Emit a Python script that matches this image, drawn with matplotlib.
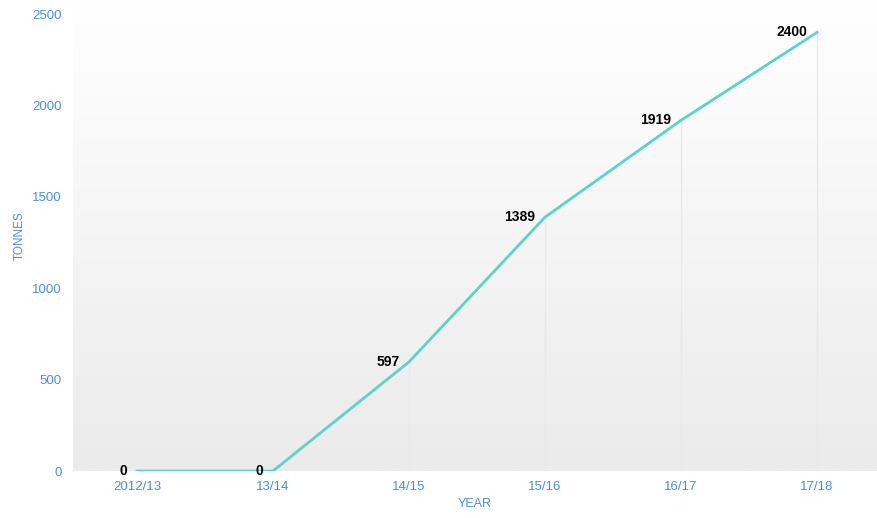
import matplotlib.pyplot as plt
import numpy as np

plt.rcParams['font.family'] = ['Liberation Sans', 'DejaVu Sans']

years = ['2012/13', '13/14', '14/15', '15/16', '16/17', '17/18']
tonnes = [0, 0, 597, 1389, 1919, 2400]
yticks = [0, 500, 1000, 1500, 2000, 2500]

blue = '#4a8fe0'
teal = '#5cd3c8'

fig = plt.figure(figsize=(8.77, 5.18), dpi=100)
ax = fig.add_axes([0.0832, 0.0907, 0.9168, 0.9093])

x = np.arange(len(years))
xmin, xmax = -0.47, 5.44
ymin, ymax = 0, 2577

# fondo degradado blanco -> gris
grad = np.linspace(1, 0, 256).reshape(-1, 1)
ax.imshow(grad, extent=[xmin, xmax, ymin, ymax], aspect='auto',
          cmap=plt.matplotlib.colors.LinearSegmentedColormap.from_list('g', ['#ebebeb', '#ffffff']),
          zorder=0, origin='upper')

# lineas verticales tenues
ax.vlines(x[1:], 0, tonnes[1:], color='#e6e9f1', lw=1, zorder=1)

ax.plot(x, tonnes, color=teal, lw=2, zorder=3)

for xi, yi in zip(x, tonnes):
    ax.text(xi - 0.07, yi, f"{yi}", ha='right', va='center',
            fontsize=10, fontweight='bold', color='black', zorder=4)

ax.set_xlim(xmin, xmax)
ax.set_ylim(ymin, ymax)
ax.set_xticks(x)
ax.set_xticklabels(years)
ax.set_yticks(yticks)
ax.tick_params(axis='both', length=0, colors=blue, labelsize=9.5)
ax.tick_params(axis='x', pad=7)
ax.tick_params(axis='y', pad=8)

for s in ax.spines.values():
    s.set_visible(False)

ax.set_xlabel('YEAR', color=blue, fontsize=9, labelpad=4)
ax.set_ylabel('TONNES', color=blue, fontsize=8.5, labelpad=5)

plt.savefig('out.png', dpi=100)
